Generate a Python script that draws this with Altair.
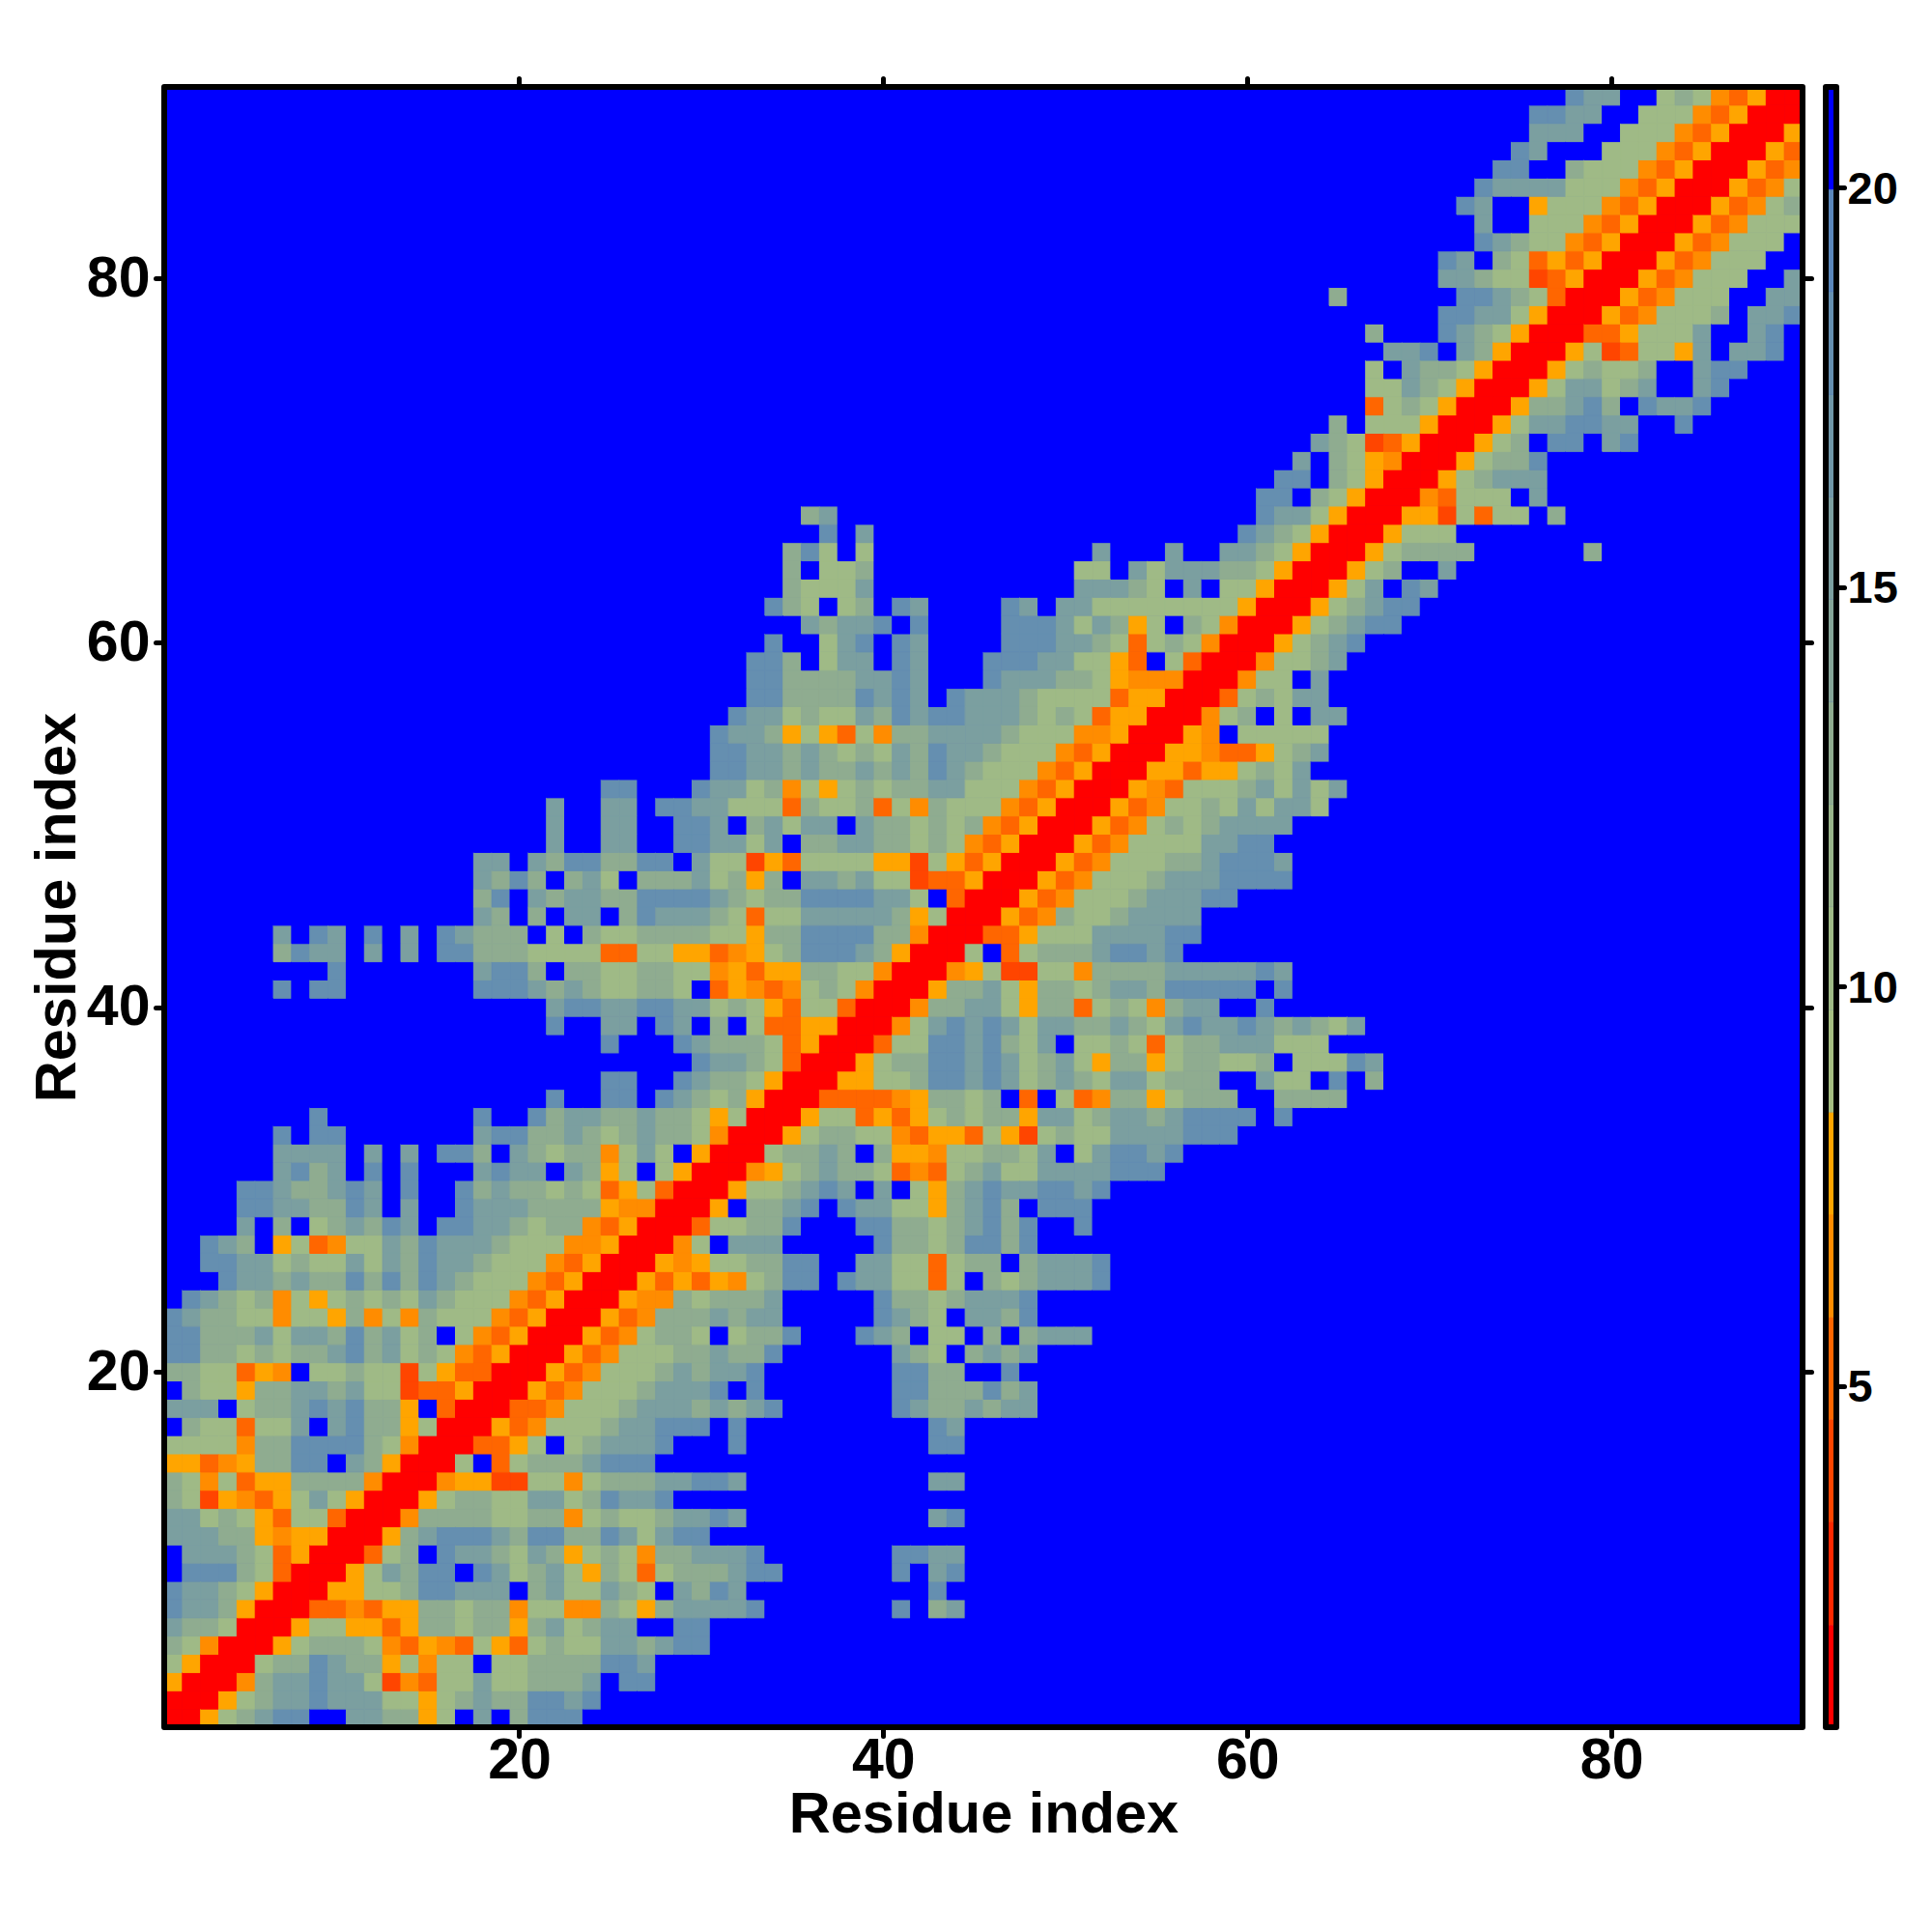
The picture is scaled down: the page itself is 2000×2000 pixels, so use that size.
import altair as alt
import pandas as pd

N = 90
TICKS = [20, 40, 60, 80]
BAR_TICKS = [5, 10, 15, 20]
BAR_EDGES = [0.73, 2.01, 3.30, 4.58, 5.86, 7.15, 8.43, 9.71, 11.0, 12.28, 13.56, 14.85, 16.13, 17.41, 18.7, 19.98, 21.26]
BAR_COLORS = ["#ff0000", "#ff2800", "#ff4500", "#ff6600", "#ff8c00", "#ffa500", "#a5be82", "#9fba86", "#98b48a",
              "#8fac90", "#85a598", "#7b9fa0", "#7097a8", "#658fb0", "#5a86bb", "#0000ff"]
LEVELS = {"R": 1.3, "a": 3.9, "b": 5.2, "c": 6.5, "d": 7.8, "g": 10.0, "h": 12.9, "i": 15.5, "j": 18.5, ".": 20.6}

# (row, first column, one letter per cell); the map is symmetric about its diagonal
SEGMENTS = [
(1,1,"RRdhhijj..jihidh.j.ijjj"),(2,1,"RRRdhiijjjjighdhhiiijjjj"),(3,1,"dRRRchiijiigacbggiggiiij.jjj"),
(4,1,"gdRRRghijihhdgcgg.ggiihhjjj"),(5,1,"hgcRRRdghhhgcbdcbgdbghggiiijjj"),(6,1,"ihhgRRRdggddbdhhhhhdiiggii..jj"),
(7,1,"jiihdRRRbbcbddhhhhhcggcchhdhiiii"),(8,1,"jiihgdRRRddgghijiij.higgihg.ijji"),(9,1,".jjjhgbRRRdghhjj.jjgiigdhgbghiij"),
(10,1,".iiihgbdRRRbgh.iiihgihdghgchhhii"),(11,1,"iiihhdcddRRRdgijjjiijjhhjihijj"),(12,1,"iighgdbggbRRRchiiihghhcgihggiiji"),
(13,1,"hgadcbdgigdRRRdghhggiighjiij"),(14,1,"hgcgbddhhhhcRRRcddaaggcgihhijjji"),(15,1,"ddbcdhhjj.ihdRRRg.bghhhijii"),
(16,1,"ggggchhjjjjhgcRRRbbdg.ghiijj...j"),(17,1,".hggbggi.ijhhdgRRRdbcgghijijji.j"),(18,1,"iii.ghhijijhhd.bRRRbbcggghiijiii"),
(19,1,".hggdhhiihiggabbdRRRdbcggghijij."),(20,1,"hhggbdc.gghggagdbbRRRdbcggghijii"),(21,1,"jjhhghghhijhighgcbdRRRdbcggghghh"),
(22,1,"jjhhhigiihjhigh.gcbdRRRdbcghhg.g"),(23,1,"jihhggcggdhcgchgggcbdRRRdbcghhii"),(24,1,".jihghcgdghghgihgggcbdRRRdccgghh"),
(25,1,"...jiihihhjhjhjihgggcbdRRRdbdadc"),(26,1,"..jjiighggigihjiihgggcbdRRRdcdgg"),(27,1,"..jih.dgbcggihjiiihgggccdRRRcg.i"),
(28,1,"....i.h.ghihji.jjiihghhcbdRRRbgg"),(29,1,"....jjiihhji.i..jiiihhhhdccRRRd."),(30,1,"....jjihhiji.j..jhihhghgbdgbRRRd"),
(31,1,"......ijhi.j.j...ijii.ihdg.gdRRR"),
(7,32,"ij"),(8,32,"i"),(9,32,"ijj"),(10,32,"ij"),(12,32,"i"),(14,32,"i"),(16,32,"j"),(17,32,"j"),
(7,41,"j.ii"),(8,43,"j"),(9,41,"j.ij"),(10,41,"ijii"),(12,43,"ij"),(14,43,"ii"),(16,43,"ii"),(17,43,"ii"),
(18,32,"ijj"),(18,41,"jiihjiii"),(19,33,"j"),(19,41,"jiihhjhi"),(20,33,"j"),(20,41,"jjii..j"),
(21,33,"ij"),(21,41,"ihg.hihi"),(22,33,"hhi"),(22,39,"jih.gg.h.giii"),(23,33,"ij"),(23,40,"jihg.iihi"),
(24,33,"ij"),(24,40,"jiighiiii"),(25,33,"ghij.jihggbg.gghjjjj"),(26,33,"ghjj..iiggbghh.hjjij"),
(27,33,"ii"),(27,40,"jhhgijjhi"),(28,33,"iij"),(28,39,"jjhhgijjii..j"),(29,33,"hiij.jiiggdgiii.jjj"),
(30,33,"ghiiji.h.gdgijiijjij"),(31,33,"cdghiihgbcbggigghhhijjj"),
(32,7,"iiii.i.i.jjh.ihghhcgig.d"),(32,31,"RRRghhii.hddcgghhgi.hijjij"),
(33,7,"j.jj.......ijjhhihghihhgcRRRdghhhhcbddbgdbghggiihijjj"),
(34,9,"j"),(34,18,"j"),(34,21,"jhiihhihhgdgRRRdggbdbdghgihdiighiihijjjj.j"),
(35,22,"j"),(35,25,"jj.jihghdRRRbbbbcdhhgh.b.gbcggdgiii..iiii"),
(36,25,"jj..jihhgdRRRddgghjjijhghihgiighii..igh.j.h"),
(37,30,"jiihgbRRRdghhjjijhghigdhhdghhggh.gggji"),
(38,25,"j"),(38,29,"jihhhgbdRRRbggjjijhgi.gghgbghhiiigggg"),
(39,22,"j"),(39,25,"ii.ji.h.gbbddRRRcgijijigiihhihhijjijjiihgi"),
(40,22,"ijjiijjiighgdbggbRRRchhhigdhhbghgchiii..j"),
(41,7,"j.jj"),(41,18,"jjjihihgghhg.bdcbcghgcRRRdghhgdhhghiihijjjj.j"),
(42,10,"j"),(42,18,"ijjh.hhgghhggcdbddhhggcRRRcdgaaggcghhhijjjjjj"),
(43,7,"hjii.i.i.jjhhhggggbbggddbcdghjjjihdRRRg.bghhhijjiij"),
(44,7,"i.ji.j.i.jihhh.g.hgghhhhggdhhjjjjhhcRRRbbdggghhiijjj"),
(45,18,"ih.h.ii.hjiiihgbggiiiiihdgRRRdbcggghiiiij"),
(46,18,"hj.ihiihhjjjjihghhjjjjiig.bRRRdbcggghiiijj"),
(47,18,"ihjh.hig.hhhighdh.iihiggabbdRRRdbcggggiiijjjj"),
(48,18,"ii.ihjjhhjj.iggadbggggddagdbdRRRdbcggghiiiiji"),
(49,22,"i"),(49,25,"ii"),(49,29,"jjiigi.hhiihhghgcbdRRRdbcggggiiij"),
(50,22,"i"),(50,25,"ii"),(50,29,"jji.higii.ihhghghcbdRRRdbcgggiiiji"),
(51,22,"i"),(51,25,"ii.jjiigggbhgghbgchgggcbdRRRdbcggggigiig"),
(52,25,"jj"),(52,30,"jiighcgdghghhiigggcbdRRRdcbggghhgigh"),
(53,31,"jjiihihhihihjihgggcbdRRRddbddghgi"),(54,31,"jjiihihghgihjiihgggcbdRRRddcbbdghi"),
(55,31,"jiihdgdbgchhiiiihgggccdRRRdc.ggggg"),(56,32,"jiighggihjijjiiihghgbddRRRcgh.g.hi"),
(57,33,"jjhhhhjiji.jiiihggggbddRRRbgggii"),(58,33,"jjhhhhiiji...jiiihhgdcccRRRcgg.i"),
(59,33,"jjh.gii.ji...jjjiiggdb.gbRRRcgghi"),(60,34,"j..gij.ji....jjjiihgbghgcRRRdghij"),
(61,36,"ihiij.j....jjjigihdg.hgcRRRdghijj"),(62,34,"jhg.gh.ji....ji.iiggggggggdRRRdghijj"),
(63,35,"hgggi"),(63,51,"iiihg.i.ggdRRRdgi.ji"),(64,35,"h.ggh"),(64,51,"gg.igiiihhgdRRRdgi..i"),
(65,35,"hjg.g"),(65,52,"i"),(65,56,"i"),(65,59,"iihgdRRRdgiihi"),(65,79,"h"),
(66,37,"j.i"),(66,60,"jihgdRRRdghg"),(67,36,"hi"),(67,61,"jiigdRRRddagbgg.i"),(68,61,"jj.hgdRRRcbggg.i"),
(69,62,"jj.hgdRRRdghhhi"),(70,63,"i.hgdcRRRdghhi"),(71,64,"ihgabdRRRdgh.jj.ij"),(72,65,"h.gggdRRRdgiijjii..j"),
(73,67,"bghgdRRRdghjjh.jjij"),(74,67,"ggihgdRRRdgiigij..ij"),(75,67,"g.ihhgdRRRdghggi..ijj"),
(76,68,"iij.ihdRRRdgacggdi.iij"),(77,67,"h"),(77,71,"jihgdRRRbbdgggh..ij"),(78,71,"jjiigdRRRdbcgggh.iij"),
(79,72,"jjihgbRRRdbcggg..ii"),(80,71,"iihggabdRRRdbcggg..i"),(81,71,"ji.hgbdbdRRRdbcggg"),
(82,73,"jihggcbdRRRdbcggg"),(83,73,"i..gggcbdRRRdbcggg"),(84,72,"ji..dgggcbdRRRdbcgh"),
(85,73,"jiiiigggcbdRRRdbcg"),(86,74,"jj..hgggcbdRRRdbc"),(87,75,"ji...gggcbdRRRdb"),
(88,76,"iii..gggcbdRRRd"),(89,76,"jjii..gggcbdRRR"),(90,78,"jii..ghgcbdRR"),
]

grid = {(x, y): LEVELS["."] for x in range(1, N + 1) for y in range(1, N + 1)}
for row, start, text in SEGMENTS:
    for k, ch in enumerate(text):
        col = start + k
        if col <= N:
            grid[(col, row)] = LEVELS[ch]
            grid[(row, col)] = LEVELS[ch]
cells = pd.DataFrame([{"x0": x - 0.5, "x1": x + 0.5, "y0": y - 0.5, "y1": y + 0.5, "v": v} for (x, y), v in grid.items()])
bar = pd.DataFrame({"lo": BAR_EDGES[:-1], "hi": BAR_EDGES[1:], "v": [(a + b) / 2 for a, b in zip(BAR_EDGES[:-1], BAR_EDGES[1:])]})
frame = pd.DataFrame({"a": [0.5], "b": [N + 0.5]})

FONT = "Liberation Sans"
W, H = 1696, 1698
xs = alt.Scale(domain=[0.5, N + 0.5], nice=False, zero=False)
ys = alt.Scale(domain=[0.5, N + 0.5], nice=False, zero=False)
color = alt.Scale(type="threshold", domain=BAR_EDGES[1:-1], range=BAR_COLORS)


def ax(orient, title=None, labels=True, **kw):
    return alt.Axis(orient=orient, values=TICKS, title=title, labels=labels, grid=False, domain=False, format="d",
                    tickSize=9, tickWidth=5, tickColor="black", tickCap="round", labelFont=FONT, labelFontWeight="bold",
                    labelFontSize=59, labelColor="black", titleFont=FONT, titleFontWeight="bold", titleFontSize=59.5,
                    titleColor="black", **kw)


heat = alt.Chart(cells).mark_rect(strokeWidth=1).encode(
    x=alt.X("x0:Q", scale=xs, axis=ax("bottom", "Residue index", labelPadding=-4, titlePadding=-3)),
    x2="x1:Q",
    y=alt.Y("y0:Q", scale=ys, axis=ax("left", "Residue index", labelPadding=6, titlePadding=0)),
    y2="y1:Q",
    color=alt.Color("v:Q", scale=color, legend=None),
    stroke=alt.Stroke("v:Q", scale=color, legend=None),
)
box = alt.Chart(frame).mark_rect(filled=False, stroke="black", strokeWidth=6, strokeJoin="round", clip=False).encode(
    x=alt.X("a:Q", scale=xs, axis=ax("top", None, labels=False)),
    x2="b:Q",
    y=alt.Y("a:Q", scale=ys, axis=ax("right", None, labels=False)),
    y2="b:Q",
)
main = alt.layer(heat, box).resolve_axis(x="independent", y="independent").properties(width=W, height=H)

bs = alt.Scale(domain=[BAR_EDGES[0], BAR_EDGES[-1]], nice=False, zero=False)
baxis = alt.Axis(orient="right", values=BAR_TICKS, title=None, grid=False, domain=False, format="d",
                 tickSize=8, tickWidth=5, tickColor="black", tickCap="round", labelFont=FONT, labelFontWeight="bold",
                 labelFontSize=47, labelColor="black", labelPadding=3, labelOffset=2)
strip = alt.Chart(bar).mark_rect(strokeWidth=0.6).encode(
    x=alt.value(0), x2=alt.value(11),
    y=alt.Y("lo:Q", scale=bs, axis=baxis),
    y2="hi:Q",
    color=alt.Color("v:Q", scale=color, legend=None),
    stroke=alt.Stroke("v:Q", scale=color, legend=None),
)
strip_box = alt.Chart(pd.DataFrame({"lo": [BAR_EDGES[0]], "hi": [BAR_EDGES[-1]]})).mark_rect(
    filled=False, stroke="black", strokeWidth=6, strokeJoin="round").encode(
    x=alt.value(0), x2=alt.value(11), y=alt.Y("lo:Q", scale=bs, axis=baxis), y2="hi:Q")
side = alt.layer(strip, strip_box).properties(width=11, height=H)

chart = alt.hconcat(main, side, spacing=24, bounds="flush").resolve_scale(
    color="independent", stroke="independent"
).properties(
    padding={"left": 21, "top": 70, "right": 10, "bottom": 10}, background="white"
).configure_view(stroke=None, fill="#0000ff")
chart.save("out.html", embed_options={"renderer": "svg", "actions": False})
